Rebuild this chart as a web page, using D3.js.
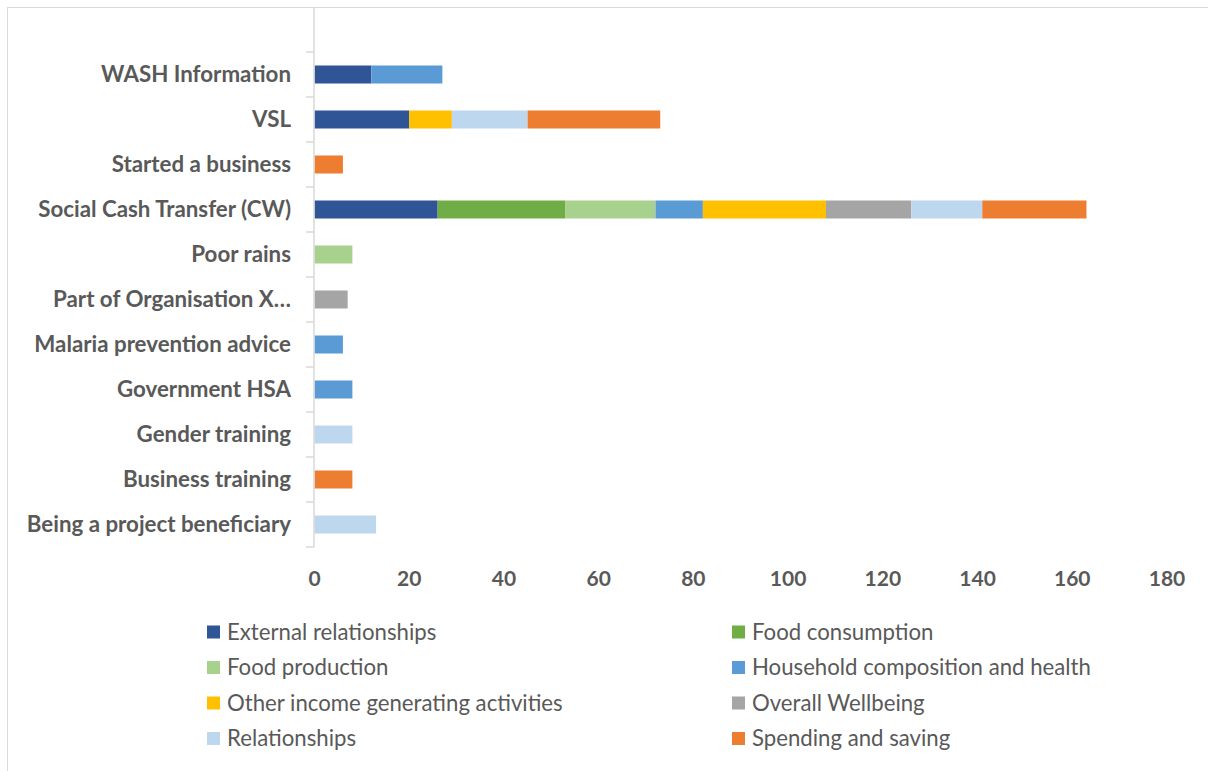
<!DOCTYPE html>
<html>
<head>
<meta charset="utf-8">
<script src="https://cdn.jsdelivr.net/npm/d3@7"></script>
<style>
  body { margin: 0; background: #fff; }
  svg { display: block; font-family: Lato, "Open Sans", sans-serif; }
</style>
</head>
<body>
<div id="chart"></div>
<script>
// categories, top to bottom
const categories = ["WASH Information", "VSL", "Started a business", "Social Cash Transfer (CW)",
  "Poor rains", "Part of Organisation X\u2026", "Malaria prevention advice", "Government HSA",
  "Gender training", "Business training", "Being a project beneficiary"];

const seriesNames = ["External relationships", "Food consumption", "Food production",
  "Household composition and health", "Other income generating activities",
  "Overall Wellbeing", "Relationships", "Spending and saving"];

const external      = [12, 20, 0, 26, 0, 0, 0, 0, 0, 0, 0];
const foodCons      = [0, 0, 0, 27, 0, 0, 0, 0, 0, 0, 0];
const foodProd      = [0, 0, 0, 19, 8, 0, 0, 0, 0, 0, 0];
const household     = [15, 0, 0, 10, 0, 0, 6, 8, 0, 0, 0];
const otherIncome   = [0, 9, 0, 26, 0, 0, 0, 0, 0, 0, 0];
const wellbeing     = [0, 0, 0, 18, 0, 7, 0, 0, 0, 0, 0];
const relationships = [0, 16, 0, 15, 0, 0, 0, 0, 8, 0, 13];
const spending      = [0, 28, 6, 22, 0, 0, 0, 0, 0, 8, 0];

const xTicks = [0, 20, 40, 60, 80, 100, 120, 140, 160, 180];

const colors = ["#2F5597", "#70AD47", "#A9D18E", "#5B9BD5", "#FFC000", "#A5A5A5", "#BDD7EE", "#ED7D31"];

const allSeries = [external, foodCons, foodProd, household, otherIncome, wellbeing, relationships, spending];

// build rows for d3.stack
const rows = categories.map((c, i) => {
  const r = { cat: c };
  seriesNames.forEach((s, j) => { r[s] = allSeries[j][i]; });
  return r;
});

const W = 1208, H = 771;
const svg = d3.select("#chart").append("svg")
  .attr("width", W).attr("height", H);

// chart border
svg.append("rect")
  .attr("x", 7.5).attr("y", 7.5)
  .attr("width", W).attr("height", H)
  .attr("fill", "none").attr("stroke", "#D9D9D9");

const x = d3.scaleLinear().domain([0, 180]).range([314.5, 1167]);
const y = d3.scaleBand().domain(categories).range([52, 547]).paddingInner(0.6).paddingOuter(0.3);

const stacked = d3.stack().keys(seriesNames)(rows);

svg.append("g")
  .selectAll("g")
  .data(stacked).enter()
  .append("g")
  .attr("fill", (d, i) => colors[i])
  .selectAll("rect")
  .data(d => d).enter()
  .filter(d => d[1] - d[0] > 0)
  .append("rect")
  .attr("x", d => x(d[0]))
  .attr("width", d => x(d[1]) - x(d[0]))
  .attr("y", d => y(d.data.cat))
  .attr("height", y.bandwidth());

// vertical axis line + tick marks at band edges
const axisG = svg.append("g");
axisG.append("line")
  .attr("x1", 314).attr("x2", 314)
  .attr("y1", 7).attr("y2", 547)
  .attr("stroke", "#D9D9D9").attr("stroke-width", 1.5);

const step = y.step();
const edges = d3.range(categories.length + 1).map(i => y.range()[0] + i * step);
axisG.selectAll(".tk")
  .data(edges).enter()
  .append("line")
  .attr("x1", 306).attr("x2", 314)
  .attr("y1", d => d).attr("y2", d => d)
  .attr("stroke", "#D9D9D9").attr("stroke-width", 1.5);

// category labels
svg.append("g")
  .selectAll("text")
  .data(categories).enter()
  .append("text")
  .attr("x", 291)
  .attr("y", d => y(d) + y.bandwidth() / 2)
  .attr("dy", "0.35em")
  .attr("text-anchor", "end")
  .attr("fill", "#595959")
  .style("font-size", "22.3px")
  .style("font-weight", "bold")
  .text(d => d);

// x tick labels
svg.append("g")
  .selectAll("text")
  .data(xTicks).enter()
  .append("text")
  .attr("x", d => x(d))
  .attr("y", 579)
  .attr("dy", "0.35em")
  .attr("text-anchor", "middle")
  .attr("fill", "#595959")
  .style("font-size", "21px")
  .style("font-weight", "bold")
  .text(d => d);

// legend, two columns
const legX = [207, 732];
const legY = [632, 667.5, 703, 738.5];
const leg = svg.append("g")
  .selectAll("g")
  .data(seriesNames).enter()
  .append("g")
  .attr("transform", (d, i) => `translate(${legX[i % 2]},${legY[Math.floor(i / 2)]})`);

leg.append("rect")
  .attr("x", 0).attr("y", -6.5)
  .attr("width", 13).attr("height", 13)
  .attr("fill", (d, i) => colors[i]);

leg.append("text")
  .attr("x", 20)
  .attr("dy", "0.35em")
  .attr("fill", "#595959")
  .style("font-size", "22.2px")
  .text(d => d);
</script>
</body>
</html>
